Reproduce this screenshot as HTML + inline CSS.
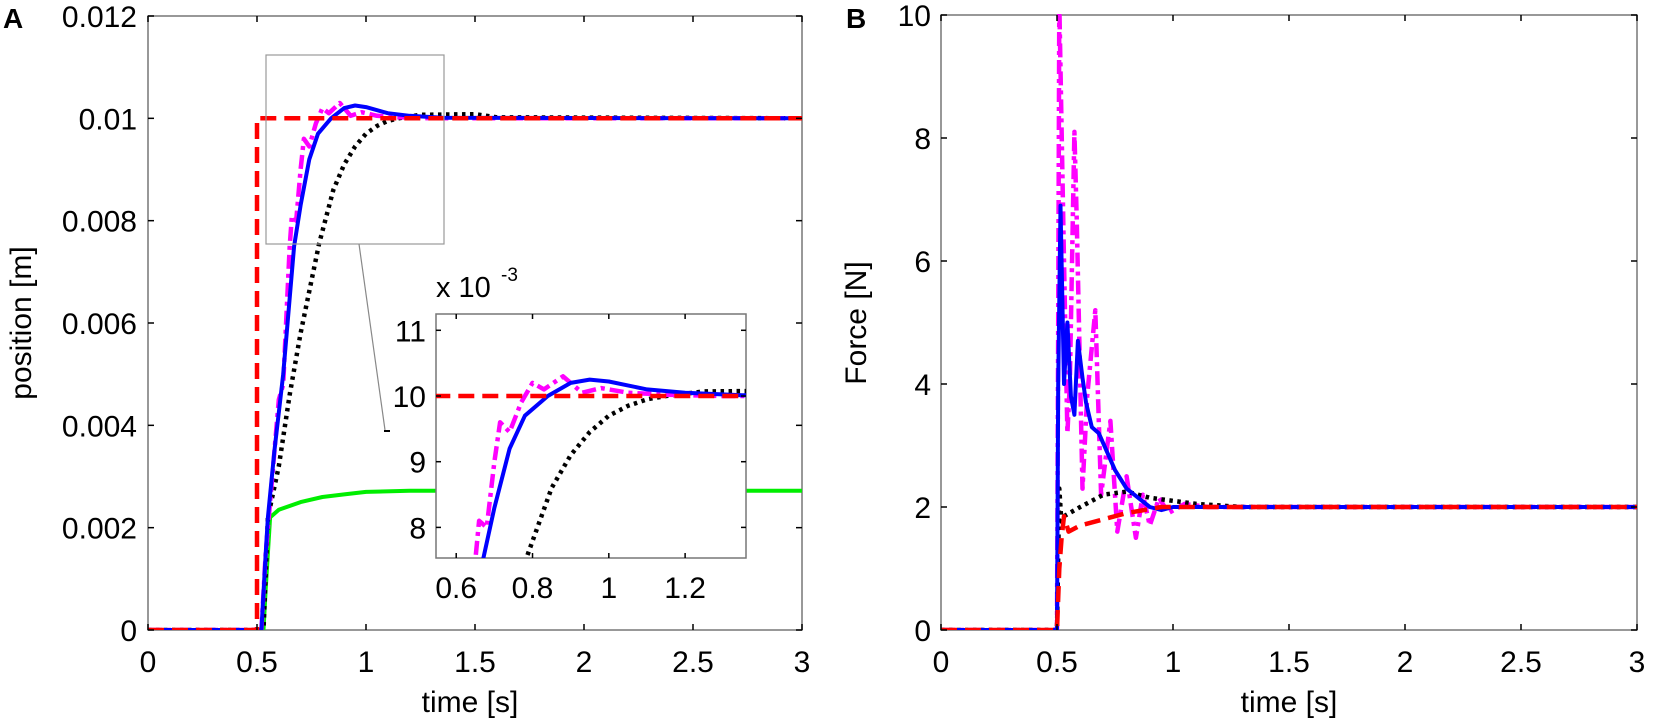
<!DOCTYPE html>
<html><head><meta charset="utf-8"><style>
html,body{margin:0;padding:0;background:#fff;width:1654px;height:727px;overflow:hidden;}
svg{display:block;}
text{font-family:"Liberation Sans",Arial,sans-serif;fill:#000;}
</style></head><body>
<svg id="s" width="1654" height="727" viewBox="0 0 1654 727" xmlns="http://www.w3.org/2000/svg">
<defs>
<clipPath id="cA"><rect x="148" y="16" width="654" height="614"/></clipPath>
<clipPath id="cI"><rect x="436" y="314" width="310" height="244"/></clipPath>
<clipPath id="cB"><rect x="941" y="14" width="696" height="616"/></clipPath>
</defs>
<g id="g"></g>
</svg>
<script>
var g=document.getElementById('g');var NS='http://www.w3.org/2000/svg';
function el(t,a,txt){var e=document.createElementNS(NS,t);for(var k in a)e.setAttribute(k,a[k]);if(txt!=null)e.textContent=txt;g.appendChild(e);return e;}
function path(pts,X,Y,st,clip){var d='';pts.forEach(function(p,i){d+=(i?'L':'M')+X(p[0]).toFixed(1)+' '+Y(p[1]).toFixed(1);});var a={d:d,fill:'none','stroke-linejoin':'round'};for(var k in st)a[k]=st[k];if(clip)a['clip-path']='url(#'+clip+')';el('path',a);}
var red={stroke:'#ff0000','stroke-width':4.5,'stroke-dasharray':'16 8'};
var blue={stroke:'#0000ff','stroke-width':4};
var mag={stroke:'#ff00ff','stroke-width':4.5,'stroke-dasharray':'14 5 4 5'};
var blk={stroke:'#000','stroke-width':4.5,'stroke-dasharray':'3.5 4.5'};
var grn={stroke:'#00ee00','stroke-width':4};
var P={
blue:[[0,0],[0.52,0],[0.54,1.5],[0.55,2.2],[0.58,3.5],[0.62,5],[0.67,7.5],[0.70,8.3],[0.74,9.2],[0.78,9.7],[0.84,10.0],[0.9,10.2],[0.95,10.25],[1.0,10.22],[1.1,10.1],[1.2,10.05],[1.35,10.01],[3,10]],
mag:[[0,0],[0.52,0],[0.54,1.5],[0.56,2.5],[0.6,4.5],[0.62,4.8],[0.65,7.5],[0.66,8.1],[0.68,8.0],[0.7,9.0],[0.715,9.6],[0.74,9.45],[0.77,9.9],[0.80,10.2],[0.83,10.1],[0.88,10.3],[0.93,10.05],[0.98,10.12],[1.05,10.05],[1.15,10.02],[1.3,10],[3,10]],
blk:[[0,0],[0.53,0],[0.55,2.2],[0.6,3.2],[0.65,4.6],[0.7,5.8],[0.785,7.55],[0.85,8.6],[0.9,9.1],[0.95,9.45],[1.0,9.7],[1.05,9.85],[1.1,9.95],[1.15,10.0],[1.25,10.07],[1.5,10.08],[1.6,10.02],[3,10]],
grn:[[0,0],[0.53,0],[0.54,0.8],[0.55,1.5],[0.56,2.2],[0.6,2.35],[0.7,2.5],[0.8,2.6],[0.9,2.65],[1.0,2.7],[1.2,2.72],[3,2.72]],
red:[[0,0],[0.5,0],[0.5,10],[3,10]]};
var XA=function(t){return 148+t*218;},YA=function(v){return 630-v/12*614;};
el('rect',{x:148,y:16,width:654,height:614,fill:'none',stroke:'#777','stroke-width':1.5});
path(P.grn,XA,YA,grn,'cA');path(P.blk,XA,YA,blk,'cA');path(P.mag,XA,YA,mag,'cA');path(P.blue,XA,YA,blue,'cA');path(P.red,XA,YA,red,'cA');
for(var i=0;i<=6;i++){var x=XA(i*0.5);el('line',{x1:x,y1:630,x2:x,y2:624,stroke:'#000','stroke-width':1.5});el('line',{x1:x,y1:16,x2:x,y2:22,stroke:'#000','stroke-width':1.5});
el('text',{x:x,y:672,'font-size':30,'text-anchor':'middle'},['0','0.5','1','1.5','2','2.5','3'][i]);}
for(var i=0;i<=6;i++){var y=YA(i*2);el('line',{x1:148,y1:y,x2:154,y2:y,stroke:'#000','stroke-width':1.5});el('line',{x1:802,y1:y,x2:796,y2:y,stroke:'#000','stroke-width':1.5});
el('text',{x:137,y:y+11,'font-size':30,'text-anchor':'end'},['0','0.002','0.004','0.006','0.008','0.01','0.012'][i]);}
el('text',{x:470,y:712,'font-size':30,'text-anchor':'middle'},'time [s]');
el('text',{x:31,y:323,'font-size':30,'text-anchor':'middle',transform:'rotate(-90 31 323)'},'position [m]');
el('text',{x:3,y:28,'font-size':28,'font-weight':'bold'},'A');
el('rect',{x:266,y:55,width:178,height:189,fill:'none',stroke:'#999','stroke-width':1.2});
el('line',{x1:359,y1:244,x2:385,y2:430,stroke:'#888','stroke-width':1.2});
el('line',{x1:384,y1:431,x2:390,y2:431,stroke:'#000','stroke-width':2});
var XI=function(t){return 436+(t-0.547)*381.5;},YI=function(v){return 396-(v-10)*65.7;};
el('rect',{x:436,y:314,width:310,height:244,fill:'#fff',stroke:'#777','stroke-width':1.5});
path(P.blk,XI,YI,blk,'cI');path(P.mag,XI,YI,mag,'cI');path(P.blue,XI,YI,blue,'cI');path(P.red,XI,YI,red,'cI');
[0.6,0.8,1,1.2].forEach(function(t,i){var x=XI(t);el('line',{x1:x,y1:558,x2:x,y2:553,stroke:'#000','stroke-width':1.5});el('line',{x1:x,y1:314,x2:x,y2:319,stroke:'#000','stroke-width':1.5});
el('text',{x:x,y:598,'font-size':30,'text-anchor':'middle'},['0.6','0.8','1','1.2'][i]);});
[8,9,10,11].forEach(function(v){var y=YI(v);el('line',{x1:436,y1:y,x2:441,y2:y,stroke:'#000','stroke-width':1.5});el('line',{x1:746,y1:y,x2:741,y2:y,stroke:'#000','stroke-width':1.5});
el('text',{x:426,y:y+11,'font-size':30,'text-anchor':'end'},String(v));});
el('text',{x:436,y:297,'font-size':29},'x 10');
el('text',{x:501,y:281,'font-size':19},'-3');
var XB=function(t){return 941+t*232;},YB=function(f){return 630-f*61.5;};
var F={
red:[[0,0],[0.5,0],[0.51,1.0],[0.52,1.5],[0.53,1.85],[0.55,1.6],[0.6,1.7],[0.7,1.8],[0.8,1.9],[0.95,2.0],[3,2]],
blk:[[0,0],[0.5,0],[0.51,2.3],[0.52,1.7],[0.53,1.85],[0.6,2.0],[0.7,2.2],[0.8,2.25],[0.9,2.15],[1.1,2.05],[1.3,2.0],[3,2]],
blue:[[0,0],[0.5,0],[0.505,4],[0.515,6.9],[0.53,4],[0.545,5],[0.56,3.8],[0.575,3.5],[0.59,4.7],[0.61,4.1],[0.625,3.7],[0.65,3.3],[0.68,3.2],[0.75,2.6],[0.8,2.3],[0.85,2.15],[0.9,2.0],[0.95,1.95],[1.0,2.0],[3,2]],
mag:[[0,0],[0.5,0],[0.505,5],[0.51,10.2],[0.53,6],[0.545,3.2],[0.555,4],[0.575,8.1],[0.585,6.7],[0.61,2.3],[0.63,3.8],[0.665,5.2],[0.69,2.2],[0.73,3.4],[0.76,1.6],[0.8,2.5],[0.84,1.5],[0.87,2.2],[0.9,1.7],[0.94,2.15],[0.98,1.9],[1.05,2.05],[1.15,2.0],[3,2]]};
el('rect',{x:941,y:15,width:696,height:615,fill:'none',stroke:'#777','stroke-width':1.5});
path(F.mag,XB,YB,mag,'cB');path(F.blk,XB,YB,blk,'cB');path(F.blue,XB,YB,blue,'cB');path(F.red,XB,YB,red,'cB');
for(var i=0;i<=6;i++){var x=XB(i*0.5);el('line',{x1:x,y1:630,x2:x,y2:624,stroke:'#000','stroke-width':1.5});el('line',{x1:x,y1:15,x2:x,y2:21,stroke:'#000','stroke-width':1.5});
el('text',{x:x,y:672,'font-size':30,'text-anchor':'middle'},['0','0.5','1','1.5','2','2.5','3'][i]);}
for(var i=0;i<=5;i++){var y=YB(i*2);el('line',{x1:941,y1:y,x2:947,y2:y,stroke:'#000','stroke-width':1.5});el('line',{x1:1637,y1:y,x2:1631,y2:y,stroke:'#000','stroke-width':1.5});
el('text',{x:931,y:y+11,'font-size':30,'text-anchor':'end'},String(i*2));}
el('text',{x:1289,y:712,'font-size':30,'text-anchor':'middle'},'time [s]');
el('text',{x:866,y:323,'font-size':30,'text-anchor':'middle',transform:'rotate(-90 866 323)'},'Force [N]');
el('text',{x:846,y:28,'font-size':28,'font-weight':'bold'},'B');
</script>
</body></html>
